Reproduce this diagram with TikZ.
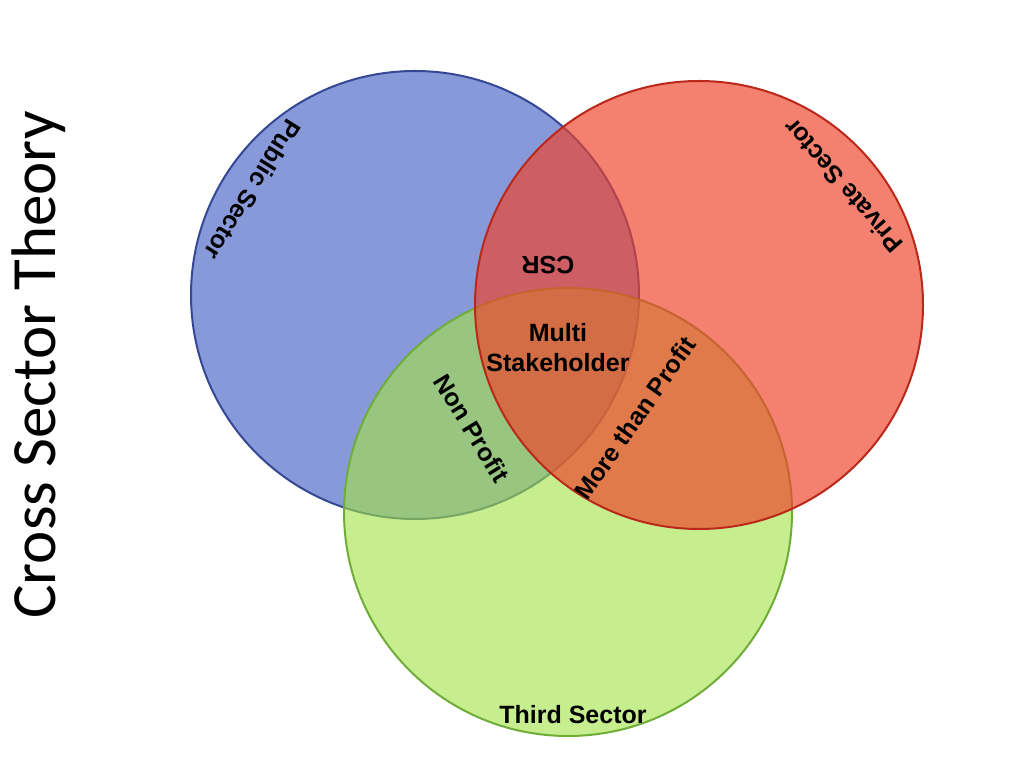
\documentclass[tikz,border=0pt]{standalone}
\usepackage{fontspec}
\setmainfont{Liberation Sans}
\newfontfamily\titlefont{Carlito}
\definecolor{bluefill}{RGB}{136,153,217}
\definecolor{blueline}{RGB}{52,72,150}
\definecolor{greenfill}{RGB}{163,227,67}
\definecolor{greenline}{RGB}{112,172,56}
\definecolor{redfill}{RGB}{239,66,42}
\definecolor{redline}{RGB}{185,40,25}
\begin{document}
\begin{tikzpicture}[x=1pt,y=1pt,
  setcircle/.style={circle,minimum size=448pt,inner sep=0pt,line width=2pt},
  lbl/.style={font=\fontsize{25}{30}\selectfont\bfseries,text=black,inner sep=0pt,align=center}]
\useasboundingbox[fill=white] (0,0) rectangle (1024,768);
\node[setcircle,draw=blueline,fill=bluefill] (pub) at (415,473) {};
\node[setcircle,draw=greenline,fill=greenfill,fill opacity=0.6] (third) at (568,256) {};
\node[setcircle,draw=redline,fill=redfill,fill opacity=0.67] (priv) at (699,463) {};
\node[lbl,rotate=-122] (publbl) at (253,578) {Public Sector};
\node[lbl,rotate=131] (privlbl) at (843,582) {Private Sector};
\node[lbl,rotate=180] (csr) at (548,503) {CSR};
\node[lbl] (multi) at (558,420) {Multi\\Stakeholder};
\node[lbl,rotate=-58.5] (nonp) at (472,340) {Non Profit};
\node[lbl,rotate=55] (morep) at (635,350) {More than Profit};
\node[lbl] (thirdlbl) at (573,53) {Third Sector};
\node[font=\titlefont\fontsize{63}{70}\selectfont,rotate=90,anchor=base,inner sep=0pt] (title) at (55,403) {Cross Sector Theory};
\end{tikzpicture}
\end{document}
